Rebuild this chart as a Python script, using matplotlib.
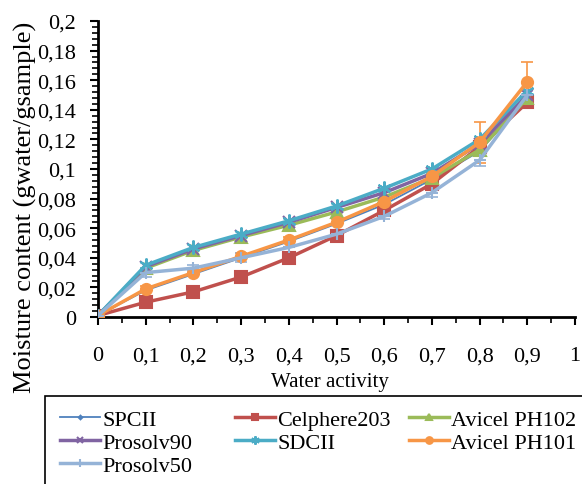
import numpy as np
import matplotlib
matplotlib.use("Agg")
import matplotlib.pyplot as plt
from matplotlib.patches import Rectangle
from matplotlib.ticker import MultipleLocator, FuncFormatter

plt.rcParams['font.family'] = ['Liberation Serif', 'DejaVu Serif']

# ============================================
# DATE
# ============================================
aw = [0, 0.1, 0.2, 0.3, 0.4, 0.5, 0.6, 0.7, 0.8, 0.9]

spcii      = [0.001, 0.018, 0.029, 0.040, 0.051, 0.063, 0.076, 0.093, 0.112, 0.148]
celphere   = [0.001, 0.010, 0.017, 0.027, 0.040, 0.055, 0.072, 0.090, 0.115, 0.145]
avicel102  = [0.001, 0.033, 0.045, 0.054, 0.062, 0.071, 0.081, 0.094, 0.113, 0.148]
prosolv90  = [0.001, 0.034, 0.046, 0.055, 0.064, 0.074, 0.084, 0.097, 0.117, 0.150]
sdcii      = [0.001, 0.035, 0.047, 0.056, 0.065, 0.075, 0.087, 0.100, 0.120, 0.153]
avicel101  = [0.001, 0.019, 0.030, 0.041, 0.052, 0.064, 0.078, 0.095, 0.118, 0.159]
prosolv50  = [0.001, 0.030, 0.033, 0.040, 0.047, 0.056, 0.068, 0.084, 0.106, 0.150]

err_101    = [0.001, 0.002, 0.002, 0.002, 0.002, 0.002, 0.002, 0.002, 0.014, 0.013]
err_50     = [0.001, 0.003, 0.002, 0.003, 0.003, 0.002, 0.002, 0.003, 0.004, 0.003]

xticks_lbl = ["0", "0,1", "0,2", "0,3", "0,4", "0,5", "0,6", "0,7", "0,8", "0,9", "1"]

# ============================================
# FIGURA
# ============================================
W, H = 582, 485
fig = plt.figure(figsize=(W / 100, H / 100), dpi=100)
ax = fig.add_axes([98 / W, 1 - 318 / H, (575 - 98) / W, (318 - 22) / H])

series = [
    ("SPCII",        spcii,     "#4F81BD", "D", 3, 1.3, None),
    ("Celphere203",  celphere,  "#C0504D", "s", 8, 2.5, None),
    ("Avicel PH102", avicel102, "#9BBB59", "^", 8, 2.5, None),
    ("Prosolv90",    prosolv90, "#8064A2", "x", 8, 2.5, None),
    ("SDCII",        sdcii,     "#4BACC6", (6, 2, 0), 10, 2.5, None),
    ("Avicel PH101", avicel101, "#F79646", "o", 8, 2.5, err_101),
    ("Prosolv50",    prosolv50, "#95B3D7", "+", 9, 2.5, err_50),
]

handles = {}
for name, y, col, mk, ms, lw, err in series:
    ln, = ax.plot(aw, y, color=col, marker=mk, markersize=ms, linewidth=lw,
                  markeredgewidth=1.5, label=name, zorder=3)
    handles[name] = ln
    if err is not None:
        ax.errorbar(aw, y, yerr=err, fmt="none", ecolor=col, elinewidth=1.2,
                    capsize=4, capthick=1.2, zorder=2)

ax.set_xlim(0, 1)
ax.set_ylim(0, 0.2)
ax.xaxis.set_minor_locator(MultipleLocator(0.05))
ax.yaxis.set_major_locator(MultipleLocator(0.02))
ax.yaxis.set_minor_locator(MultipleLocator(0.004))
ax.set_xticks(np.arange(0, 1.01, 0.1))
ax.set_xticklabels(xticks_lbl)
ax.yaxis.set_major_formatter(FuncFormatter(lambda v, p: ("%g" % round(v, 3)).replace(".", ",")))

for s in ["top", "right"]:
    ax.spines[s].set_visible(False)
ax.spines["left"].set_linewidth(2)
ax.spines["bottom"].set_linewidth(2)
ax.tick_params(axis="both", which="major", direction="out", length=6, width=1.5,
               labelsize=16)
ax.tick_params(axis="x", which="major", pad=15)
ax.tick_params(axis="y", which="major", pad=10)
ax.tick_params(axis="both", which="minor", direction="out", length=4, width=1.2)

fig.text(330 / W, 1 - 383 / H, "Water activity", ha="center", va="center", fontsize=15)
fig.text(25 / W, 1 - 207 / H, "Moisture content (gwater/gsample)", rotation=90,
         ha="center", va="center", fontsize=19)

# --- legenda: cadru + 3 coloane fixe, ca in Excel ---
fig.patches.append(Rectangle((45 / W, -0.05), 0.95, (1 - 397 / H) + 0.05,
                             transform=fig.transFigure, fill=False,
                             edgecolor="black", linewidth=1.2))
columns = [(60, ["SPCII", "Prosolv90", "Prosolv50"]),
           (235, ["Celphere203", "SDCII"]),
           (409, ["Avicel PH102", "Avicel PH101"])]
for x0, names in columns:
    lg = fig.legend([handles[n] for n in names], names,
                    loc="upper left", bbox_to_anchor=(x0 / W, 1 - 410 / H),
                    fontsize=16, frameon=False, handlelength=1.8,
                    handletextpad=0.1, labelspacing=0.12, borderpad=0,
                    borderaxespad=0, markerscale=0.6)

fig.savefig("out.png", dpi=100)
